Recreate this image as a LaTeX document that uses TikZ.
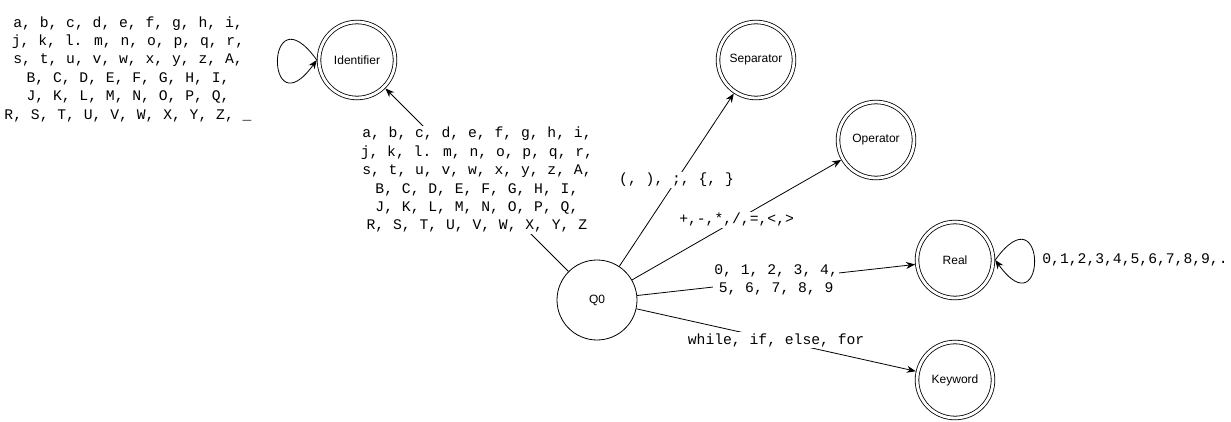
\documentclass[tikz,border=0pt]{standalone}
\usepackage{fontspec}
\setmainfont{Liberation Sans}
\newfontfamily\codefont{Liberation Mono}
\usetikzlibrary{arrows.meta}

\begin{document}
\begin{tikzpicture}
[
    x=1pt, y=1pt,
    line width=0.8pt,
    state/.style={draw,circle,minimum size=80pt,inner sep=0pt,font=\fontsize{12}{14}\selectfont},
    final/.style={state,double,double distance=2.8pt,minimum size=76pt,outer sep=2.2pt},
    trans/.style={draw,-{Stealth[length=9pt,width=7pt]}},
    lbl/.style={fill=white,inner sep=1pt,align=center,font=\codefont\fontsize{14.7}{18.4}\selectfont}
  ]
  \useasboundingbox (0,0) rectangle (1231,421);

  \node[state] (q0) at (597,121) {Q0};
  \node[final] (id) at (357,361) {Identifier};
  \node[final] (sep) at (756,361) {Separator};
  \node[final] (op) at (876,281) {Operator};
  \node[final] (real) at (955,161) {Real};
  \node[final] (kw) at (955,41) {Keyword};

  \draw[trans] (q0) -- node[lbl] (lid) {a, b, c, d, e, f, g, h, i,\\ j, k, l. m, n, o, p, q, r,\\ s, t, u, v, w, x, y, z, A,\\ B, C, D, E, F, G, H, I,\\ J, K, L, M, N, O, P, Q,\\ R, S, T, U, V, W, X, Y, Z} (id);
  \draw[trans] (q0) -- node[lbl] (lsep) {(, ), ;, \{, \}} (sep);
  \draw[trans] (q0) -- node[lbl] (lop) {+,-,*,/,=,<,>} (op);
  \draw[trans] (q0) -- node[lbl] (lreal) {0, 1, 2, 3, 4,\\ 5, 6, 7, 8, 9} (real);
  \draw[trans] (q0) -- node[lbl] (lkw) {while, if, else, for} (kw);

  % self loops
  \draw[trans] (id.west) .. controls +(-52,72) and +(-52,-72) .. (id.west);
  \draw[trans] (real.east) .. controls +(52,72) and +(52,-72) .. (real.east);

  \node[lbl] (lidloop) at (128,352) {a, b, c, d, e, f, g, h, i,\\ j, k, l. m, n, o, p, q, r,\\ s, t, u, v, w, x, y, z, A,\\ B, C, D, E, F, G, H, I,\\ J, K, L, M, N, O, P, Q,\\ R, S, T, U, V, W, X, Y, Z, \_};
  \node[lbl,anchor=west] (lrealloop) at (1041,161) {0,1,2,3,4,5,6,7,8,9,.};
\end{tikzpicture}
\end{document}
